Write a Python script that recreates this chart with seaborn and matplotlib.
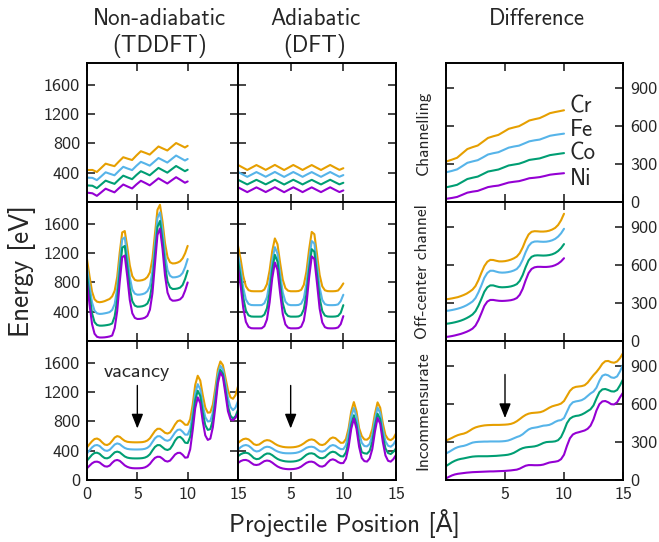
import matplotlib
matplotlib.use("Agg")
import matplotlib.pyplot as plt
import seaborn as sns

# projectile positions (Angstrom)
x_grid10 = [0, 0.25, 0.5, 0.75, 1, 1.25, 1.5, 1.75, 2, 2.25, 2.5, 2.75, 3, 3.25, 3.5, 3.75,
            4, 4.25, 4.5, 4.75, 5, 5.25, 5.5, 5.75, 6, 6.25, 6.5, 6.75, 7, 7.25, 7.5, 7.75,
            8, 8.25, 8.5, 8.75, 9, 9.25, 9.5, 9.75, 10]
x_grid15 = x_grid10 + [10.25, 10.5, 10.75, 11, 11.25, 11.5, 11.75, 12, 12.25, 12.5, 12.75,
                       13, 13.25, 13.5, 13.75, 14, 14.25, 14.5, 14.75, 15]
x_ch_tddft = [0, 0.54, 0.98, 1.41, 1.85, 2.29, 2.73, 3.16, 3.6, 4.04, 4.48, 4.91, 5.35, 5.79,
              6.23, 6.66, 7.1, 7.54, 7.98, 8.41, 8.85, 9.29, 9.73, 10]
x_ch_dft = [0, 0.44, 0.88, 1.31, 1.75, 2.19, 2.63, 3.06, 3.5, 3.94, 4.38, 4.81, 5.25, 5.69,
            6.13, 6.56, 7.0, 7.44, 7.88, 8.31, 8.75, 9.19, 9.63, 10]
x_ch_diff = [0, 0.5, 0.94, 1.38, 1.81, 2.25, 2.69, 3.13, 3.56, 4.0, 4.44, 4.88, 5.31, 5.75,
             6.19, 6.63, 7.06, 7.5, 7.94, 8.38, 8.81, 9.25, 9.69, 10]

# --- Channelling ---
ch_tddft_cr = [437, 438, 410, 466, 524, 506, 490, 552, 612, 592, 574, 636, 694, 672, 648, 703, 759, 731, 704, 755, 806, 776, 745, 768]
ch_tddft_fe = [333, 330, 299, 351, 406, 385, 365, 424, 481, 457, 436, 495, 549, 524, 497, 548, 601, 570, 539, 587, 635, 601, 567, 588]
ch_tddft_co = [227, 222, 189, 240, 292, 269, 248, 305, 360, 335, 312, 369, 421, 394, 365, 415, 466, 433, 401, 447, 492, 457, 421, 441]
ch_tddft_ni = [128, 119, 84, 132, 182, 156, 132, 187, 239, 211, 185, 240, 290, 260, 228, 275, 324, 288, 253, 296, 339, 302, 263, 281]

ch_dft_cr = [506, 472, 438, 471, 505, 473, 439, 472, 507, 472, 437, 471, 506, 473, 438, 472, 505, 471, 438, 472, 506, 472, 439, 462]
ch_dft_fe = [410, 377, 344, 376, 409, 378, 345, 377, 411, 377, 343, 376, 410, 378, 344, 377, 409, 376, 344, 377, 410, 377, 345, 368]
ch_dft_co = [304, 272, 240, 271, 303, 273, 241, 272, 305, 272, 239, 271, 304, 273, 240, 272, 303, 271, 240, 272, 304, 272, 241, 263]
ch_dft_ni = [201, 168, 135, 167, 200, 169, 136, 168, 202, 168, 134, 167, 201, 169, 135, 168, 200, 167, 135, 168, 201, 168, 136, 158]

ch_diff_cr = [320, 335, 350, 385, 419, 434, 447, 477, 507, 520, 531, 555, 579, 590, 600, 622, 645, 655, 664, 683, 703, 712, 720, 726]
ch_diff_fe = [235, 246, 258, 284, 310, 321, 331, 353, 376, 386, 394, 412, 430, 439, 446, 463, 480, 488, 494, 509, 524, 531, 537, 541]
ch_diff_co = [116, 126, 136, 159, 182, 192, 201, 221, 241, 249, 257, 273, 289, 296, 303, 317, 333, 339, 345, 358, 371, 377, 383, 387]
ch_diff_ni = [25, 32, 40, 57, 74, 82, 88, 103, 118, 125, 130, 142, 154, 160, 165, 176, 188, 192, 197, 206, 216, 221, 225, 228]

# --- Off-center channel ---
oc_tddft_cr = [1120, 885, 675, 570, 537, 530, 535, 545, 560, 575, 610, 686, 876, 1209, 1484, 1503, 1287, 1034, 887, 835, 825,
               826, 832, 845, 875, 938, 1124, 1465, 1793, 1862, 1634, 1337, 1146, 1076, 1060, 1062, 1072, 1090, 1130, 1200, 1300]
oc_tddft_fe = [1010, 755, 527, 413, 378, 370, 372, 378, 385, 395, 425, 506, 718, 1081, 1390, 1416, 1162, 870, 703, 647, 633,
               634, 640, 652, 681, 750, 953, 1319, 1681, 1758, 1510, 1181, 970, 892, 870, 871, 878, 892, 930, 1010, 1120]
oc_tddft_co = [900, 625, 379, 257, 219, 210, 210, 213, 218, 225, 240, 337, 562, 945, 1275, 1299, 1027, 720, 544, 484, 469,
               470, 475, 487, 512, 589, 800, 1182, 1558, 1641, 1380, 1036, 815, 734, 711, 712, 718, 730, 765, 850, 960]
oc_tddft_ni = [800, 500, 232, 99, 57, 48, 48, 50, 55, 62, 75, 176, 409, 805, 1146, 1168, 882, 562, 379, 316, 301,
               302, 307, 318, 345, 428, 652, 1054, 1450, 1537, 1263, 896, 661, 576, 551, 552, 558, 570, 605, 690, 800]

oc_dft_cr = [1302, 1118, 889, 747, 695, 682, 680, 680, 680, 681, 703, 778, 963, 1230, 1402, 1322, 1067, 837, 723, 688, 680,
             680, 680, 683, 699, 768, 952, 1251, 1491, 1460, 1188, 903, 747, 693, 682, 680, 680, 682, 690, 731, 787]
oc_dft_fe = [1190, 982, 725, 566, 507, 492, 490, 490, 490, 491, 516, 598, 801, 1093, 1283, 1195, 914, 663, 538, 499, 490,
             490, 490, 493, 511, 585, 784, 1107, 1366, 1333, 1039, 731, 562, 504, 492, 490, 490, 492, 500, 545, 632]
oc_dft_co = [1100, 873, 590, 416, 351, 335, 333, 333, 333, 334, 360, 448, 664, 976, 1178, 1085, 785, 517, 384, 342, 333,
             333, 333, 336, 355, 433, 642, 982, 1255, 1220, 911, 587, 409, 348, 335, 333, 333, 335, 343, 385, 490]
oc_dft_ni = [1000, 755, 450, 262, 193, 175, 173, 173, 173, 174, 202, 295, 526, 858, 1073, 973, 655, 369, 227, 183, 173,
             173, 173, 176, 196, 279, 503, 866, 1157, 1120, 790, 444, 254, 189, 175, 173, 173, 175, 185, 230, 340]

oc_diff_cr = [330, 333, 337, 342, 347, 355, 364, 375, 390, 407, 435, 482, 540, 593, 627, 642, 641, 635, 630, 630, 632,
              637, 644, 654, 668, 695, 740, 798, 843, 864, 869, 868, 866, 866, 868, 873, 882, 895, 918, 955, 1007]
oc_diff_fe = [238, 241, 245, 250, 256, 263, 272, 283, 297, 313, 340, 385, 440, 500, 538, 556, 556, 549, 543, 541, 542,
              545, 550, 558, 570, 597, 643, 703, 752, 778, 787, 788, 786, 785, 786, 790, 797, 808, 826, 852, 888]
oc_diff_co = [136, 139, 143, 148, 154, 161, 170, 181, 194, 210, 236, 280, 333, 390, 425, 440, 440, 433, 427, 425, 426,
              428, 432, 439, 450, 476, 522, 585, 638, 666, 676, 678, 677, 676, 677, 680, 686, 696, 712, 735, 767]
oc_diff_ni = [32, 35, 39, 44, 50, 56, 64, 73, 84, 98, 122, 165, 220, 278, 312, 325, 325, 321, 318, 317, 318,
              320, 323, 329, 340, 366, 413, 480, 538, 570, 583, 587, 587, 586, 586, 588, 592, 600, 612, 630, 655]

# --- Incommensurate ---
inc_tddft_cr = [446, 490, 530, 560, 567, 550, 515, 485, 478, 495, 535, 580, 600, 590, 560, 535, 522, 518, 516, 515, 515,
                516, 518, 525, 540, 570, 620, 670, 700, 700, 675, 645, 635, 650, 700, 760, 805, 815, 790, 755, 755,
                830, 1030, 1300, 1425, 1360, 1160, 990, 920, 925, 1030, 1260, 1510, 1620, 1570, 1400, 1230, 1130, 1110, 1160, 1280]
inc_tddft_fe = [365, 405, 445, 472, 478, 465, 432, 405, 398, 412, 448, 485, 500, 490, 462, 438, 425, 420, 418, 417, 417,
                418, 420, 426, 440, 468, 520, 570, 598, 598, 572, 545, 536, 550, 598, 650, 685, 690, 660, 620, 620,
                700, 910, 1180, 1310, 1240, 1030, 860, 800, 805, 920, 1170, 1440, 1560, 1510, 1320, 1120, 1000, 955, 990, 1080]
inc_tddft_co = [265, 305, 345, 370, 373, 358, 325, 300, 296, 310, 345, 378, 388, 378, 350, 322, 306, 299, 296, 295, 295,
                296, 299, 306, 322, 352, 405, 452, 477, 476, 448, 420, 410, 425, 475, 540, 582, 590, 560, 510, 505,
                590, 810, 1090, 1220, 1150, 920, 750, 685, 695, 820, 1080, 1370, 1505, 1450, 1240, 1010, 880, 840, 870, 960]
inc_tddft_ni = [160, 195, 228, 248, 251, 240, 212, 188, 183, 197, 235, 265, 274, 262, 232, 200, 180, 168, 162, 160, 160,
                161, 164, 172, 190, 220, 265, 302, 318, 316, 292, 262, 252, 265, 305, 348, 370, 372, 345, 305, 310,
                420, 680, 980, 1130, 1050, 800, 610, 548, 565, 720, 1000, 1320, 1470, 1410, 1180, 940, 830, 815, 850, 910]

inc_dft_cr = [505, 535, 558, 566, 555, 525, 490, 478, 485, 510, 535, 545, 540, 520, 495, 475, 462, 453, 448, 446, 446,
              448, 453, 462, 478, 500, 528, 548, 555, 545, 515, 485, 478, 490, 525, 565, 582, 572, 540, 508, 510,
              561, 707, 939, 1065, 939, 707, 600, 554, 551, 583, 696, 905, 1061, 988, 773, 615, 558, 545, 570, 636]
inc_dft_fe = [415, 448, 470, 478, 468, 440, 405, 390, 396, 420, 445, 455, 450, 432, 408, 390, 378, 370, 366, 365, 365,
              367, 371, 380, 395, 417, 440, 452, 455, 446, 420, 394, 388, 400, 432, 465, 478, 468, 442, 422, 422,
              475, 646, 866, 985, 866, 646, 508, 464, 460, 494, 612, 828, 990, 914, 691, 528, 468, 455, 485, 545]
inc_dft_co = [325, 352, 368, 373, 364, 335, 300, 285, 290, 315, 345, 362, 360, 340, 312, 288, 272, 262, 255, 252, 251,
              253, 258, 268, 285, 315, 345, 362, 365, 355, 325, 302, 297, 310, 345, 375, 387, 378, 350, 325, 322,
              378, 523, 758, 885, 758, 523, 380, 365, 360, 398, 520, 740, 905, 830, 598, 432, 368, 355, 385, 433]
inc_dft_ni = [232, 258, 272, 274, 262, 235, 210, 205, 212, 235, 258, 266, 260, 238, 210, 185, 168, 157, 151, 148, 148,
              150, 155, 165, 183, 210, 235, 249, 251, 240, 212, 188, 183, 198, 238, 272, 283, 270, 245, 230, 232,
              292, 453, 700, 840, 700, 453, 300, 258, 252, 295, 423, 660, 848, 770, 520, 335, 262, 251, 285, 342]

inc_diff_cr = [313, 322, 333, 345, 355, 362, 367, 376, 390, 405, 416, 423, 428, 432, 434, 435, 436, 436, 436, 437, 438,
               440, 444, 452, 465, 482, 500, 515, 525, 530, 532, 534, 537, 545, 558, 572, 583, 590, 596, 605, 625,
               665, 705, 728, 737, 740, 743, 750, 770, 800, 830, 855, 885, 920, 940, 942, 932, 928, 938, 965, 1004]
inc_diff_fe = [210, 222, 236, 250, 260, 266, 270, 277, 287, 296, 300, 302, 303, 304, 304, 305, 305, 305, 305, 306, 308,
               312, 320, 330, 340, 348, 362, 382, 400, 410, 414, 418, 424, 430, 432, 436, 446, 460, 470, 474, 490,
               540, 590, 615, 622, 626, 632, 645, 665, 685, 700, 730, 785, 825, 835, 828, 812, 808, 820, 860, 913]
inc_diff_co = [110, 125, 140, 152, 161, 167, 171, 176, 181, 185, 187, 188, 188, 188, 188, 189, 190, 191, 193, 195, 197,
               200, 206, 215, 228, 242, 252, 258, 261, 263, 266, 272, 282, 293, 300, 302, 303, 306, 315, 340, 390,
               450, 485, 500, 507, 510, 518, 530, 545, 560, 590, 645, 695, 717, 720, 712, 702, 700, 712, 750, 796]
inc_diff_ni = [13, 25, 36, 44, 49, 52, 55, 58, 60, 62, 63, 64, 65, 66, 67, 68, 68, 69, 70, 71, 72,
               74, 76, 79, 82, 90, 102, 113, 118, 118, 117, 117, 118, 122, 130, 138, 142, 145, 150, 165, 200,
               270, 330, 360, 372, 378, 385, 392, 405, 430, 480, 550, 600, 622, 625, 615, 600, 598, 615, 655, 691]

elements = ["Cr", "Fe", "Co", "Ni"]
colors = ["#E69F00", "#56B4E9", "#009E73", "#9400D3"]
row_names = ["Channelling", "Off-center channel", "Incommensurate"]

sns.set_style("ticks")
plt.rcParams["font.family"] = ["cmss10", "DejaVu Sans"]
plt.rcParams["axes.unicode_minus"] = False
plt.rcParams["xtick.direction"] = "in"
plt.rcParams["ytick.direction"] = "in"

fig = plt.figure(figsize=(6.59, 5.42), dpi=100)

col_left = [87 / 659, 238 / 659, 446 / 659]
col_w = [151 / 659, 158 / 659, 177 / 659]
row_h = 139 / 542
row_bottom = [1 - 202 / 542, 1 - 341 / 542, 1 - 480 / 542]

panels = [
    [(x_ch_tddft, [ch_tddft_cr, ch_tddft_fe, ch_tddft_co, ch_tddft_ni]),
     (x_ch_dft, [ch_dft_cr, ch_dft_fe, ch_dft_co, ch_dft_ni]),
     (x_ch_diff, [ch_diff_cr, ch_diff_fe, ch_diff_co, ch_diff_ni])],
    [(x_grid10, [oc_tddft_cr, oc_tddft_fe, oc_tddft_co, oc_tddft_ni]),
     (x_grid10, [oc_dft_cr, oc_dft_fe, oc_dft_co, oc_dft_ni]),
     (x_grid10, [oc_diff_cr, oc_diff_fe, oc_diff_co, oc_diff_ni])],
    [(x_grid15, [inc_tddft_cr, inc_tddft_fe, inc_tddft_co, inc_tddft_ni]),
     (x_grid15, [inc_dft_cr, inc_dft_fe, inc_dft_co, inc_dft_ni]),
     (x_grid15, [inc_diff_cr, inc_diff_fe, inc_diff_co, inc_diff_ni])],
]

axes = []
for r in range(3):
    row_axes = []
    for c in range(3):
        ax = fig.add_axes([col_left[c], row_bottom[r], col_w[c], row_h])
        x, curves = panels[r][c]
        for y, col in zip(curves, colors):
            sns.lineplot(x=x, y=y, ax=ax, color=col, lw=1.5, estimator=None, legend=False)
        ax.set_xlim(0, 15)
        ax.set_xticks([0, 5, 10, 15])
        if c < 2:
            ax.set_ylim(0, 1900)
            ax.set_yticks([0, 400, 800, 1200, 1600])
        else:
            ax.set_ylim(0, 1100)
            ax.set_yticks([0, 300, 600, 900])
        ax.tick_params(which="both", direction="in", top=True, right=True, length=6, width=1.2,
                       labelsize=13, pad=5)
        for sp in ax.spines.values():
            sp.set_linewidth(1.4)
            sp.set_color("black")
        ax.set_xlabel("")
        ax.set_ylabel("")
        # tick labels
        if r == 2:
            if c == 0:
                ax.set_xticklabels(["0", "5", "10", "15"])
            else:
                ax.set_xticklabels(["", "5", "10", "15"])
        else:
            ax.set_xticklabels([])
        if c == 0:
            if r == 2:
                ax.set_yticklabels(["0", "400", "800", "1200", "1600"])
            else:
                ax.set_yticklabels(["", "400", "800", "1200", "1600"])
        elif c == 1:
            ax.set_yticklabels([])
        else:
            ax.yaxis.set_ticks_position("both")
            ax.tick_params(axis="y", labelleft=False, labelright=True)
            ax.set_yticklabels(["0", "300", "600", "900"])
            ax.text(-0.13, 0.5, row_names[r], transform=ax.transAxes, rotation=90,
                    ha="center", va="center", fontsize=12.5)
        row_axes.append(ax)
    axes.append(row_axes)

# element labels
ax = axes[0][2]
for name, yv in zip(elements, [758, 567, 384, 185]):
    ax.text(10.5, yv, name, fontsize=16.5, va="center", ha="left")

# vacancy arrows
arrow = dict(arrowstyle="-|>,head_length=0.55,head_width=0.22", color="black", lw=1.0,
             shrinkA=0, shrinkB=0, mutation_scale=16)
axes[2][0].annotate("", xy=(5, 704), xytext=(5, 1292), arrowprops=arrow)
axes[2][0].text(5, 1472, "vacancy", ha="center", va="center", fontsize=14.5)
axes[2][1].annotate("", xy=(5, 704), xytext=(5, 1292), arrowprops=arrow)
axes[2][2].annotate("", xy=(5, 490), xytext=(5, 835), arrowprops=arrow)

# column titles and axis labels
fig.text(159.5 / 659, 1 - 33 / 542, "Non-adiabatic\n(TDDFT)", ha="center", va="center",
         fontsize=16.5, linespacing=1.25)
fig.text(315 / 659, 1 - 33 / 542, "Adiabatic\n(DFT)", ha="center", va="center",
         fontsize=16.5, linespacing=1.25)
fig.text(537 / 659, 1 - 19 / 542, "Difference", ha="center", va="center", fontsize=16.5)
fig.text(22 / 659, 0.5, "Energy [eV]", rotation=90, ha="center", va="center", fontsize=19.5)
fig.text(344 / 659, 1 - 524 / 542, "Projectile Position [Å]", ha="center", va="center", fontsize=18)

fig.savefig("out.png", dpi=100)
